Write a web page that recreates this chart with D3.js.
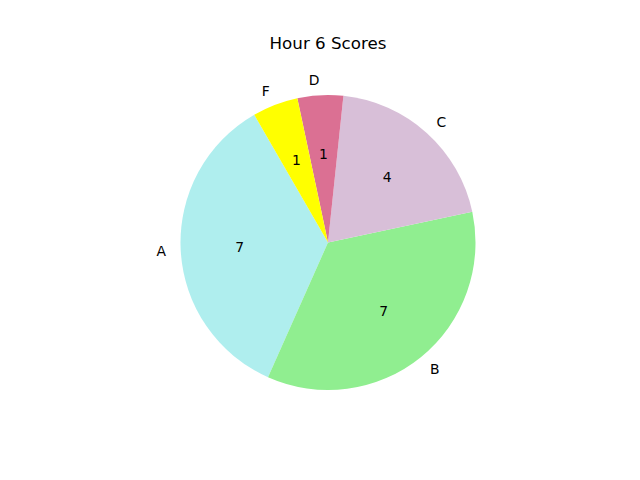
<!DOCTYPE html>
<html>
<head>
<meta charset="utf-8">
<script src="https://d3js.org/d3.v7.min.js"></script>
<style>
  html, body { margin: 0; background: #fff; }
  text { font-family: "DejaVu Sans", sans-serif; fill: #000; }
</style>
</head>
<body>
<script>
  // data
  var categories = ["A", "B", "C", "D", "F"];
  var counts = [7, 7, 4, 1, 1];
  var colors = ["#AFEEEE", "#90EE90", "#D8BFD8", "#DB7093", "#FFFF00"];
  var title = "Hour 6 Scores";

  var width = 640, height = 480;
  var cx = 328, cy = 242.5, r = 147.5;
  var deg = Math.PI / 180;

  var svg = d3.select("body").append("svg")
      .attr("width", width)
      .attr("height", height);

  // matplotlib startangle=120, counterclockwise
  var pie = d3.pie()
      .sort(null)
      .startAngle((90 - 120) * deg)
      .endAngle((90 - 120 - 360) * deg);

  var arcs = pie(counts);
  var arc = d3.arc().innerRadius(0).outerRadius(r);

  var g = svg.append("g").attr("transform", "translate(" + cx + "," + cy + ")");

  g.selectAll("path.slice")
    .data(arcs)
    .enter().append("path")
      .attr("class", "slice")
      .attr("d", arc)
      .attr("fill", function(d, i) { return colors[i]; });

  function mid(d) { return (d.startAngle + d.endAngle) / 2; }

  // category labels at 1.1 r
  g.selectAll("text.lbl")
    .data(arcs)
    .enter().append("text")
      .attr("class", "lbl")
      .attr("x", function(d) { return 1.1 * r * Math.sin(mid(d)); })
      .attr("y", function(d) { return -1.1 * r * Math.cos(mid(d)); })
      .attr("text-anchor", function(d) { return Math.sin(mid(d)) > 0 ? "start" : "end"; })
      .attr("dominant-baseline", "central")
      .style("font-size", "13.9px")
      .text(function(d, i) { return categories[i]; });

  // values at 0.6 r
  g.selectAll("text.val")
    .data(arcs)
    .enter().append("text")
      .attr("class", "val")
      .attr("x", function(d) { return 0.6 * r * Math.sin(mid(d)); })
      .attr("y", function(d) { return -0.6 * r * Math.cos(mid(d)); })
      .attr("text-anchor", "middle")
      .attr("dominant-baseline", "central")
      .style("font-size", "13.9px")
      .text(function(d) { return d.data; });

  svg.append("text")
    .attr("x", cx)
    .attr("y", 49)
    .attr("text-anchor", "middle")
    .style("font-size", "16.7px")
    .text(title);
</script>
</body>
</html>
